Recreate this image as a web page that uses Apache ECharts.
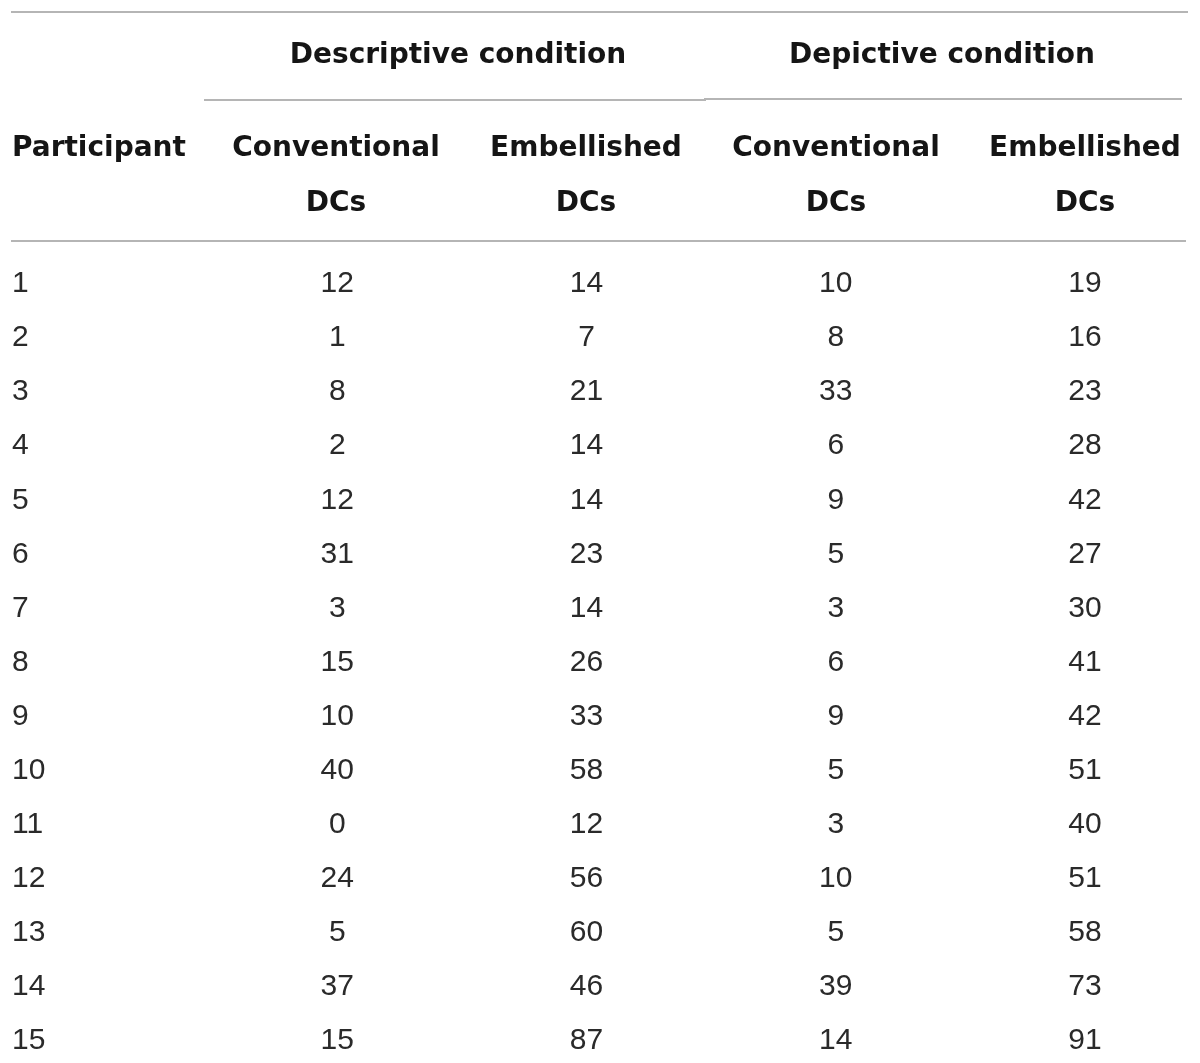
<!DOCTYPE html>
<html>
<head>
<meta charset="utf-8">
<title>DCs per participant</title>
<script src="https://cdn.jsdelivr.net/npm/echarts@6/dist/echarts.min.js"></script>
<style>
  html, body { margin: 0; padding: 0; background: #fff; }
  #main { width: 1200px; height: 1063px; }
</style>
</head>
<body>
<div id="main"></div>
<script>
// table values, one array per column
const participants = ['1', '2', '3', '4', '5', '6', '7', '8', '9', '10', '11', '12', '13', '14', '15']
const descConventional = [12, 1, 8, 2, 12, 31, 3, 15, 10, 40, 0, 24, 5, 37, 15]
const descEmbellished = [14, 7, 21, 14, 14, 23, 14, 26, 33, 58, 12, 56, 60, 46, 87]
const depConventional = [10, 8, 33, 6, 9, 5, 3, 6, 9, 5, 3, 10, 5, 39, 14]
const depEmbellished = [19, 16, 23, 28, 42, 27, 30, 41, 42, 51, 40, 51, 58, 73, 91]

const groupHeaders = ['Descriptive condition', 'Depictive condition']
const columnHeaders = ['Conventional\nDCs', 'Embellished\nDCs', 'Conventional\nDCs', 'Embellished\nDCs']
const firstHeader = 'Participant'

const valueColumns = [descConventional, descEmbellished, depConventional, depEmbellished]

const headFont = '"DejaVu Sans", "Helvetica Neue", Arial, sans-serif'
const bodyFont = '"Liberation Sans", Helvetica, Arial, sans-serif'
const ruleColor = '#b5b5b5'
const headColor = '#151515'
const bodyColor = '#2a2a2a'

const chart = echarts.init(document.getElementById('main'), null, { renderer: 'canvas' })

const cellLabel = {
  show: true,
  position: 'inside',
  fontFamily: bodyFont,
  fontSize: 30,
  color: bodyColor,
  opacity: 1,
  formatter: p => p.value[2]
}

// scatter fades its items to 0.8 by default, so force full opacity
const series = [{
  type: 'scatter',
  symbolSize: 0,
  silent: true,
  itemStyle: { opacity: 1 },
  data: participants.map((p, r) => [0, r, p]),
  label: { ...cellLabel, align: 'left', offset: [-76, 0] }
}]
valueColumns.forEach((col, i) => {
  series.push({
    type: 'scatter',
    symbolSize: 0,
    silent: true,
    itemStyle: { opacity: 1 },
    data: col.map((v, r) => [i + 1, r, v]),
    label: cellLabel
  })
})

const rule = (x1, x2, y) => ({
  type: 'line',
  shape: { x1: x1, y1: y, x2: x2, y2: y },
  style: { stroke: ruleColor, lineWidth: 2 },
  silent: true
})
const headText = (text, x, y, align) => ({
  type: 'text',
  x: x,
  y: y,
  style: {
    text: text,
    fontFamily: headFont,
    fontWeight: 'bold',
    fontSize: 28,
    fill: headColor,
    align: align || 'center',
    verticalAlign: 'middle',
    lineHeight: 55
  },
  silent: true
})

const headX = [336, 586, 836, 1085]
const graphic = [
  rule(11, 1188, 12),
  rule(204, 706, 100),
  rule(704, 1182, 99),
  rule(11, 1186, 241),
  headText(groupHeaders[0], 458, 56),
  headText(groupHeaders[1], 942, 56),
  headText(firstHeader, 12, 149, 'left')
]
columnHeaders.forEach((h, i) => {
  graphic.push(headText(h, headX[i], 176.5))
})

chart.setOption({
  animation: false,
  backgroundColor: '#fff',
  grid: { left: 88, right: 115, top: 284, bottom: 22 },
  xAxis: { type: 'value', min: 0, max: 4, show: false },
  yAxis: { type: 'category', data: participants, inverse: true, boundaryGap: false, show: false },
  graphic: graphic,
  series: series
})
</script>
</body>
</html>
